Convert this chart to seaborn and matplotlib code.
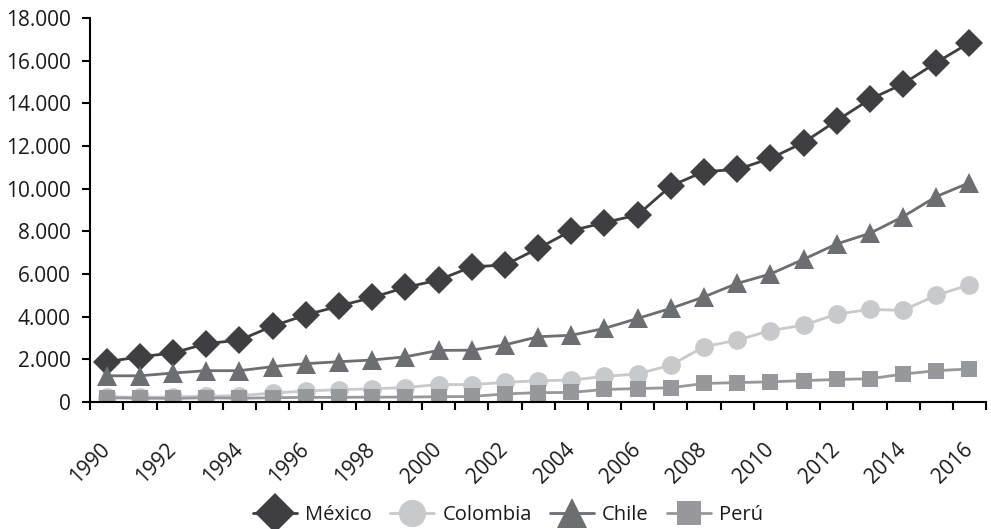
import numpy as np
import pandas as pd
import matplotlib
matplotlib.use("Agg")
import matplotlib.pyplot as plt
from matplotlib.ticker import FuncFormatter, FixedLocator
import seaborn as sns

# ================== DATA ==================
years = list(range(1990, 2017))

mexico = [1890, 2120, 2300, 2740, 2900, 3560, 4080, 4500, 4900, 5370, 5720, 6340,
          6420, 7200, 8030, 8410, 8770, 10130, 10800, 10900, 11420, 12160, 13190,
          14190, 14910, 15910, 16840]
colombia = [250, 220, 240, 270, 300, 420, 520, 580, 620, 680, 820, 820,
            920, 1000, 1030, 1200, 1320, 1730, 2590, 2900, 3350, 3600, 4120,
            4340, 4300, 5000, 5500]
chile = [1230, 1230, 1360, 1470, 1470, 1660, 1800, 1890, 1970, 2120, 2420, 2430,
         2680, 3060, 3130, 3450, 3920, 4390, 4930, 5560, 6000, 6690, 7410,
         7910, 8690, 9630, 10280]
peru = [200, 180, 170, 200, 180, 200, 220, 220, 230, 230, 250, 260,
        380, 440, 450, 590, 630, 670, 870, 910, 950, 1000, 1060,
        1090, 1310, 1470, 1550]

series = ["México", "Colombia", "Chile", "Perú"]
values = [mexico, colombia, chile, peru]
colors = ["#3f3f41", "#c8c9cb", "#6d6e71", "#97989b"]
markers = ["D", "o", "^", "s"]
msizes = [14, 13.5, 14.5, 11.5]

df = pd.DataFrame({"year": years * 4,
                   "value": sum(values, []),
                   "pais": [s for s in series for _ in years]})

# ================== STYLE ==================
sns.set_style("white")
plt.rcParams["font.family"] = ["Open Sans", "DejaVu Sans"]
fs = 15

fig, ax = plt.subplots(figsize=(9.91, 5.29), dpi=100)
fig.subplots_adjust(left=0.091, right=0.995, top=0.966, bottom=0.24)

for name, col, mk, ms in zip(series, colors, markers, msizes):
    sns.lineplot(data=df[df["pais"] == name], x="year", y="value", ax=ax,
                 color=col, marker=mk, markersize=ms, markeredgewidth=0,
                 linewidth=2.0, label=name, legend=False)

# ================== AXES ==================
ax.set_xlim(1989.5, 2016.5)
ax.set_ylim(0, 18000)
ax.set_yticks(range(0, 18001, 2000))
ax.yaxis.set_major_formatter(FuncFormatter(lambda v, p: f"{int(v):,}".replace(",", ".")))

ax.xaxis.set_major_locator(FixedLocator(years[::2]))
ax.set_xticklabels([str(y) for y in years[::2]], rotation=45, ha="right",
                   va="center", rotation_mode="anchor")
ax.xaxis.set_minor_locator(FixedLocator([y - 0.5 for y in years] + [2016.5]))
ax.tick_params(axis="x", which="major", length=0, pad=32, labelsize=fs, labelcolor="#1a1a1a")
ax.tick_params(axis="x", which="minor", length=6, width=1.5, direction="out",
               bottom=True, color="black")
ax.tick_params(axis="y", length=6, width=1.5, direction="out", left=True,
               pad=8, labelsize=fs, color="black", labelcolor="#1a1a1a")

for s in ["top", "right"]:
    ax.spines[s].set_visible(False)
for s in ["left", "bottom"]:
    ax.spines[s].set_color("black")
    ax.spines[s].set_linewidth(1.5)
ax.set_xlabel("")
ax.set_ylabel("")

# ================== LEGEND ==================
handles, labels = ax.get_legend_handles_labels()
fig.legend(handles, labels, loc="center", bbox_to_anchor=(508 / 991, 1 - 515 / 529),
           ncol=4, frameon=False, fontsize=fs - 0.5, handlelength=2.2,
           handletextpad=0.4, columnspacing=0.9, markerscale=1.45,
           labelcolor="#1a1a1a")

plt.savefig("out.png", dpi=100)
plt.close()
